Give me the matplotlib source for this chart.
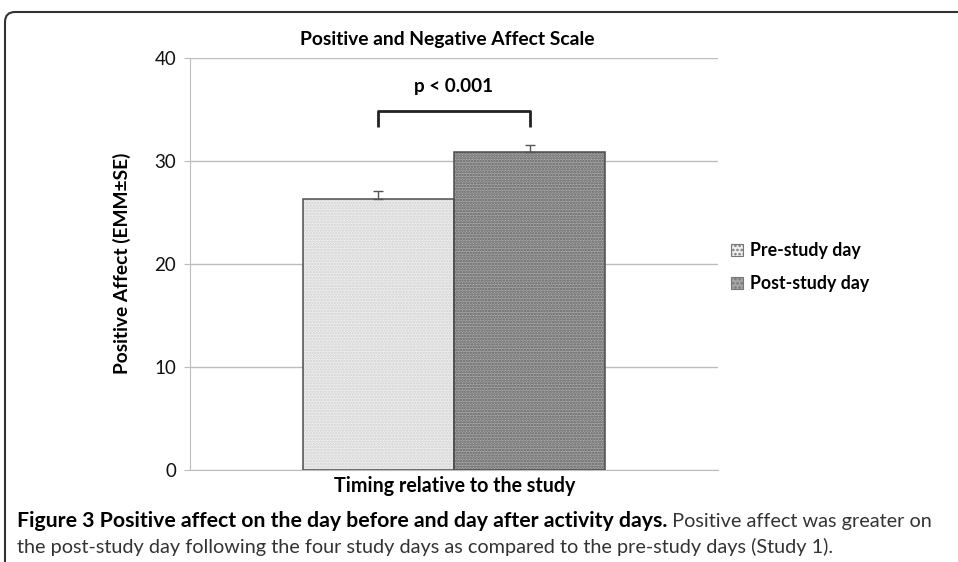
"""Positive affect before/after study days (Figure 3 recreation)."""

import matplotlib

matplotlib.use("Agg")

import matplotlib.pyplot as plt
from matplotlib.patches import FancyBboxPatch, Patch

# data
groups = ["Pre-study day", "Post-study day"]
means = [26.3, 30.85]
errors = [0.8, 0.7]
yticks = [0, 10, 20, 30, 40]
p_text = "p < 0.001"
bracket_low, bracket_high = 33.3, 34.85

title = "Positive and Negative Affect Scale"
ylabel = "Positive Affect (EMM\u00b1SE)"
xlabel = "Timing relative to the study"
caption_bold = "Figure 3 Positive affect on the day before and day after activity days."
caption_rest = " Positive affect was greater on"
caption_line2 = ("the post-study day following the four study days as compared "
                 "to the pre-study days (Study 1).")

face_colors = ["#efefef", "#a6a6a6"]
hatch_colors = ["#d0d0d0", "#636363"]
hatches = ["......", "......"]

W, H, DPI = 958, 562, 100

plt.rcParams["font.family"] = ["Lato", "DejaVu Sans"]
plt.rcParams["hatch.linewidth"] = 1.2

fig = plt.figure(figsize=(W / DPI, H / DPI), dpi=DPI)
renderer = fig.canvas.get_renderer()


def fit(txt, target_px, vertical=False):
    """Scale the font size of a text so that it spans target_px pixels."""
    bb = txt.get_window_extent(renderer)
    size = bb.height if vertical else bb.width
    txt.set_fontsize(txt.get_fontsize() * target_px / size)
    return txt


ax = fig.add_axes([190 / W, 1 - 470 / H, 528 / W, 412 / H])

width = 0.286
offsets = [-width / 2, width / 2]
for off, m, e, fc, hc, h in zip(offsets, means, errors, face_colors, hatch_colors, hatches):
    ax.bar(off, m, width, color=fc, edgecolor=hc, hatch=h, linewidth=0, zorder=2)
    ax.bar(off, m, width, fill=False, edgecolor="#4d4d4d", linewidth=1.1, zorder=3)
    ax.errorbar(off, m, yerr=[[0], [e]], color="#555555", capsize=3.5,
                elinewidth=1, capthick=1, zorder=4)

# significance bracket between the two bar centres
ax.plot([offsets[0], offsets[0], offsets[1], offsets[1]],
        [bracket_low, bracket_high, bracket_high, bracket_low],
        color="#222222", linewidth=2, solid_joinstyle="round", solid_capstyle="butt",
        zorder=4)
ptxt = ax.text(0, 37.2, p_text, ha="center", va="center", fontsize=13,
               fontweight="bold")
fit(ptxt, 79)

ax.set_xlim(-0.5, 0.5)
ax.set_ylim(0, 40)
ax.set_yticks(yticks)
ax.set_xticks([])
ax.grid(axis="y", color="#bdbdbd", linewidth=1, zorder=0)
ax.set_axisbelow(True)
for side in ["top", "right"]:
    ax.spines[side].set_visible(False)
ax.spines["left"].set_color("#bdbdbd")
ax.spines["bottom"].set_color("#bdbdbd")
ax.tick_params(axis="y", length=4, color="#bdbdbd", labelsize=13.5, pad=6,
               labelcolor="#111111")

leg_handles = [Patch(facecolor=fc, edgecolor="#777777", hatch="....", linewidth=0.8)
               for fc in face_colors]
probe = fig.text(0, 0, groups[0], fontsize=12, fontweight="bold")
fit(probe, 110)
leg_size = probe.get_fontsize()
probe.remove()
fig.legend(leg_handles, groups, loc="upper left",
           bbox_to_anchor=(731 / W, 1 - 242 / H), frameon=False,
           prop={"weight": "bold", "size": leg_size}, handlelength=0.65,
           handleheight=0.65, handletextpad=0.4, labelspacing=0.92,
           borderpad=0, borderaxespad=0)

fit(fig.text(447 / W, 1 - 40 / H, title, ha="center", va="center", fontsize=13,
             fontweight="bold"), 295)
fit(fig.text(122 / W, 1 - 263 / H, ylabel, ha="center", va="center", rotation=90,
             fontsize=12, fontweight="bold"), 220, vertical=True)
fit(fig.text(455 / W, 1 - 486 / H, xlabel, ha="center", va="center", fontsize=13,
             fontweight="bold"), 240)

# caption under the chart
t1 = fit(fig.text(17 / W, 1 - 521 / H, caption_bold, ha="left", va="center",
                  fontsize=14, fontweight="bold"), 655)
t3 = fit(fig.text(17 / W, 1 - 547 / H, caption_line2, ha="left", va="center",
                  fontsize=14, color="#333333"), 819)
bb = t1.get_window_extent(renderer)
fig.text(bb.x1 / W, 1 - 521 / H, caption_rest, ha="left", va="center",
         fontsize=t3.get_fontsize(), color="#333333")

# rounded frame around the figure panel
frame = FancyBboxPatch((0.05, -0.5), 10.0, 5.62 - 0.12 + 0.5,
                       boxstyle="round,pad=0,rounding_size=0.1",
                       transform=fig.dpi_scale_trans, facecolor="none",
                       edgecolor="#333333", linewidth=1.5)
fig.patches.append(frame)

fig.savefig("out.png", dpi=DPI)
